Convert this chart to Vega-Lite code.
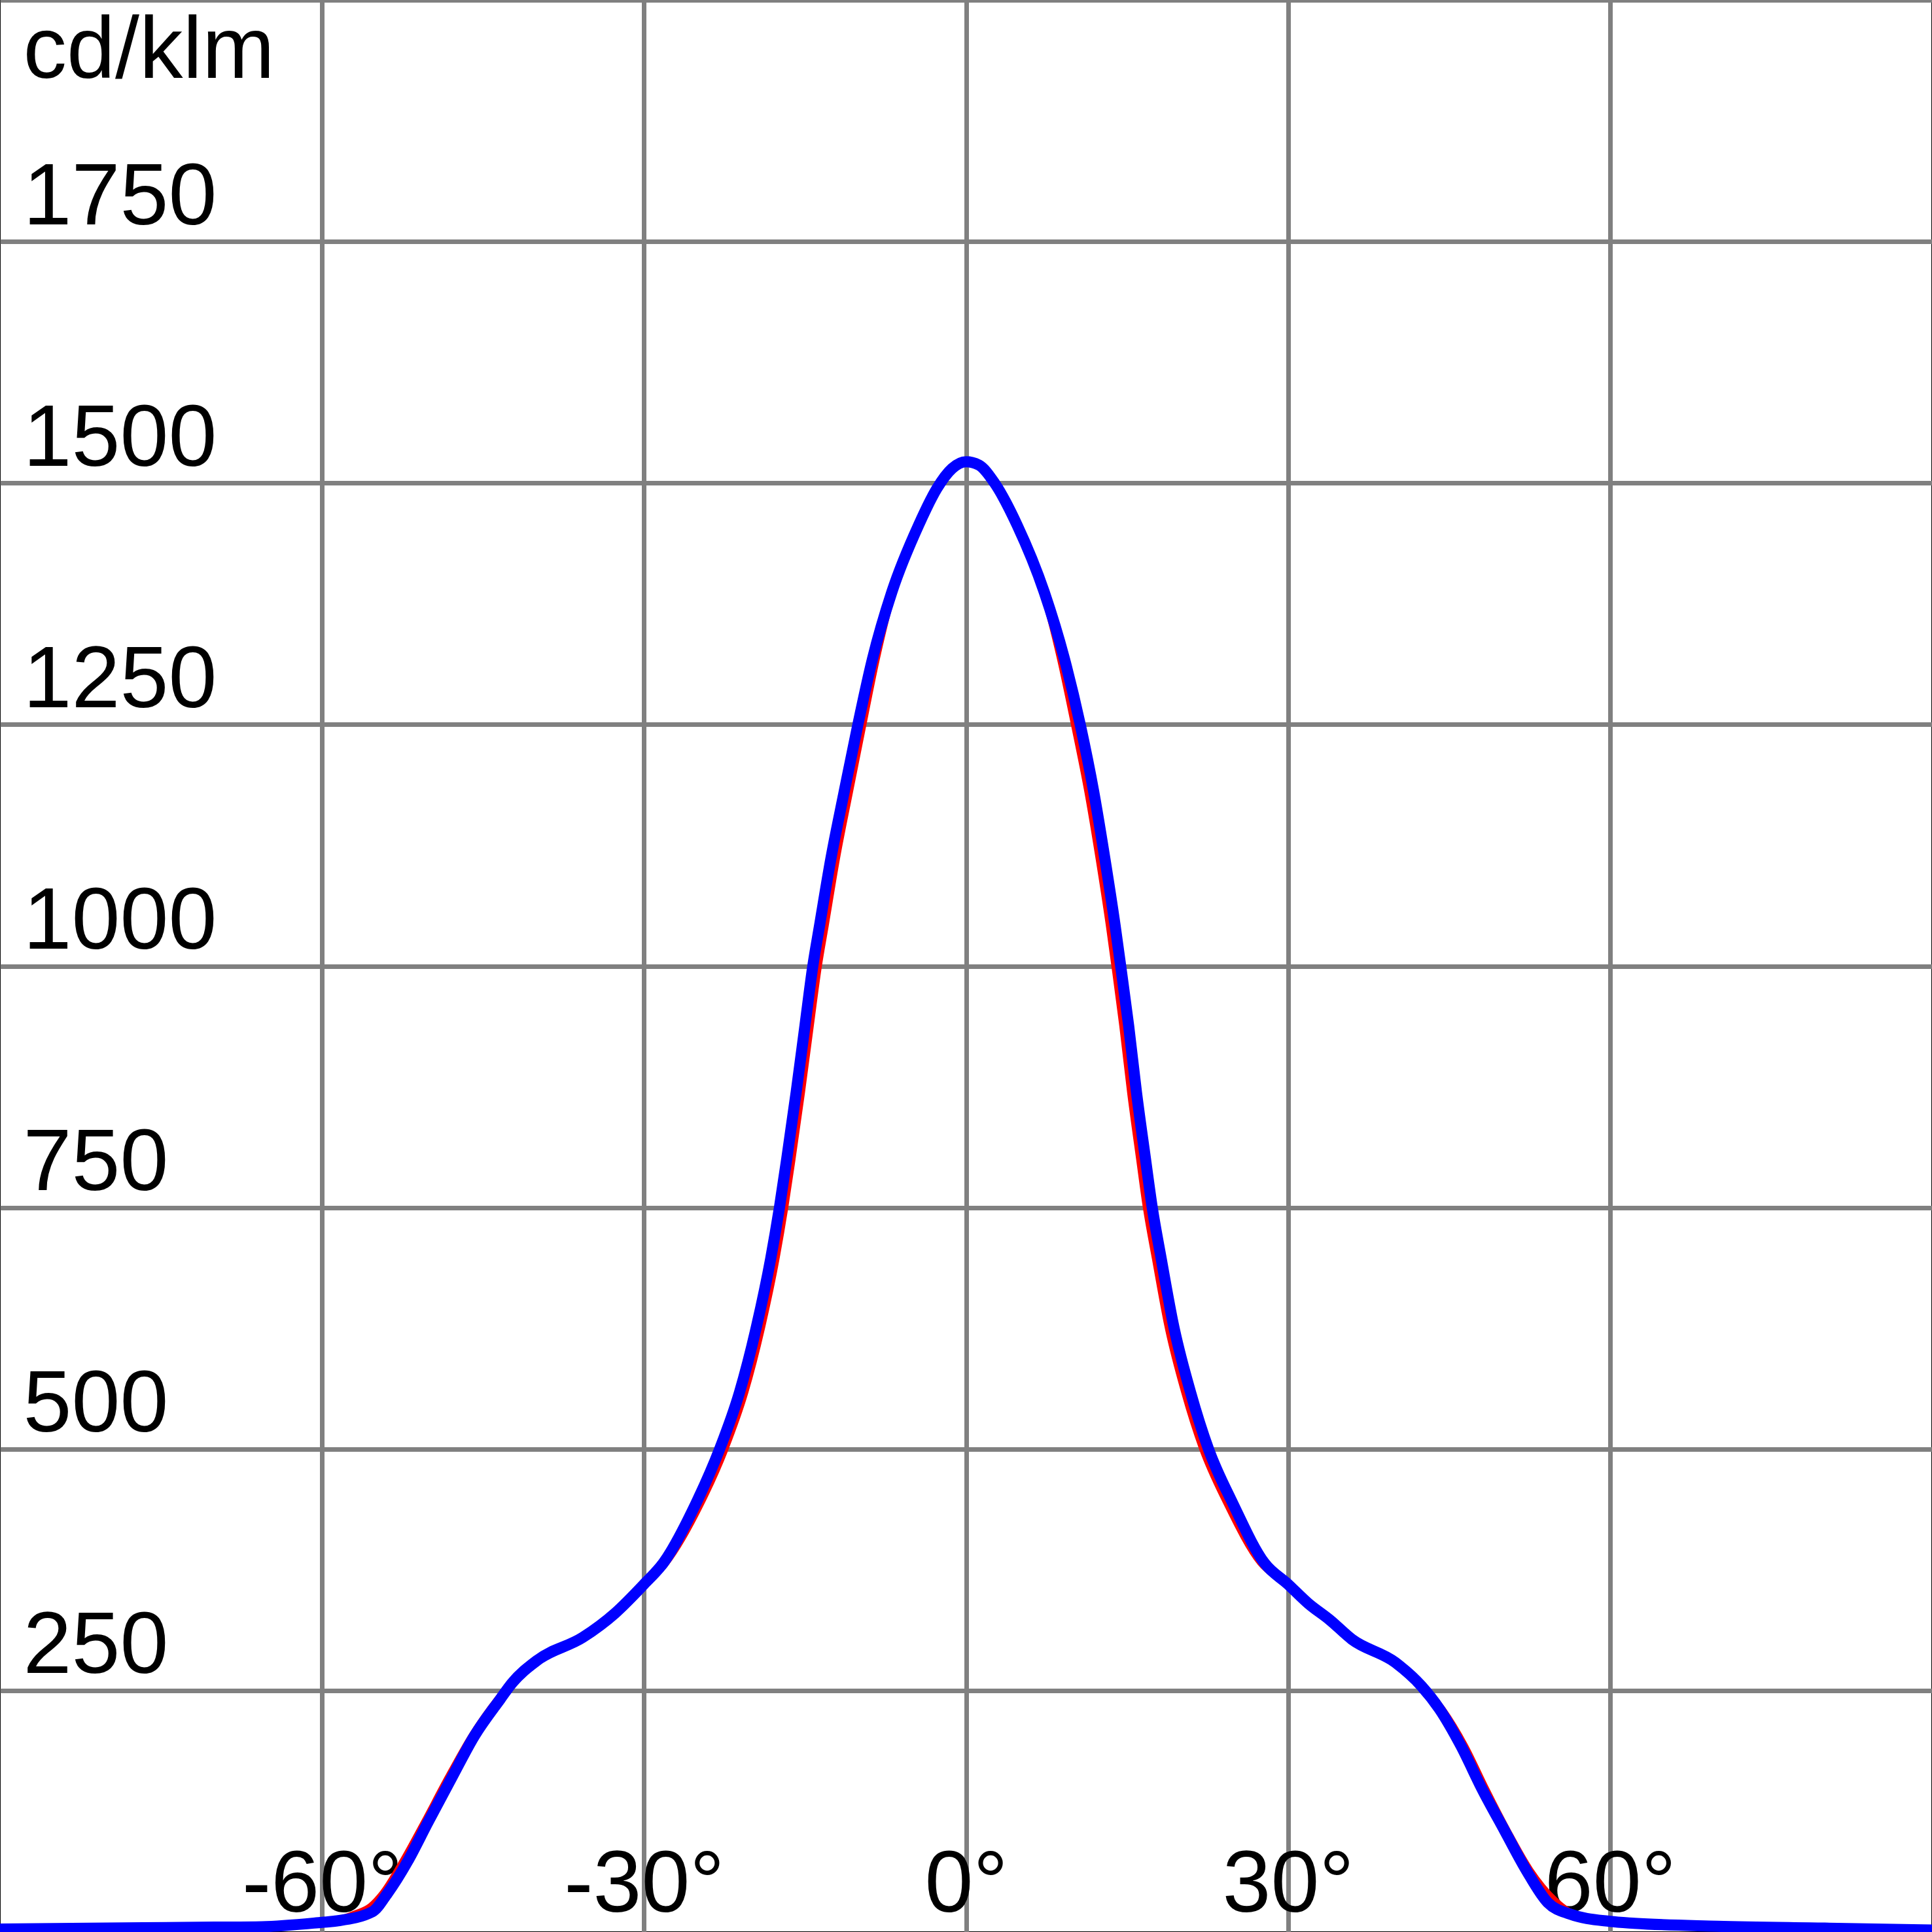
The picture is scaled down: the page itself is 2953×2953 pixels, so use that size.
{
  "$schema": "https://vega.github.io/schema/vega-lite/v6.json",
  "width": 2953,
  "height": 2953,
  "autosize": {"type": "none"},
  "padding": 0,
  "background": "#ffffff",
  "config": {
    "view": {"stroke": "#000000", "strokeWidth": 2},
    "font": "Liberation Sans"
  },
  "datasets": {
    "c0": [
      {"angle": -90, "value": 3}, {"angle": -80, "value": 4}, {"angle": -70, "value": 5}, {"angle": -65.6, "value": 6},
      {"angle": -60, "value": 11}, {"angle": -58.6, "value": 13}, {"angle": -57, "value": 19}, {"angle": -55.5, "value": 27},
      {"angle": -54.4, "value": 40}, {"angle": -52.5, "value": 73.6}, {"angle": -50.6, "value": 112}, {"angle": -48.3, "value": 160},
      {"angle": -46.1, "value": 203}, {"angle": -43.7, "value": 241}, {"angle": -42.5, "value": 257}, {"angle": -39.9, "value": 282},
      {"angle": -35.7, "value": 306}, {"angle": -32.7, "value": 331}, {"angle": -29.8, "value": 360}, {"angle": -27.9, "value": 382},
      {"angle": -24.7, "value": 442.7}, {"angle": -22.4, "value": 500}, {"angle": -20.55, "value": 558.7}, {"angle": -18.95, "value": 627.7},
      {"angle": -17.65, "value": 696.8}, {"angle": -16.83, "value": 750}, {"angle": -16.15, "value": 800.4}, {"angle": -15.27, "value": 869.5},
      {"angle": -14.45, "value": 938.5}, {"angle": -13.7, "value": 1000}, {"angle": -13.06, "value": 1042}, {"angle": -12.02, "value": 1111},
      {"angle": -10.8, "value": 1180.3}, {"angle": -9.55, "value": 1250}, {"angle": -8.3, "value": 1318}, {"angle": -6.75, "value": 1387.4},
      {"angle": -4.4, "value": 1456.5}, {"angle": -2.75, "value": 1494}, {"angle": -1.3, "value": 1515}, {"angle": 0, "value": 1522},
      {"angle": 1.2, "value": 1518.6}, {"angle": 2.66, "value": 1500}, {"angle": 4.76, "value": 1456.5}, {"angle": 7.15, "value": 1387.4},
      {"angle": 8.75, "value": 1318}, {"angle": 10.05, "value": 1250}, {"angle": 11.3, "value": 1180.3}, {"angle": 12.35, "value": 1111},
      {"angle": 13.3, "value": 1042}, {"angle": 13.82, "value": 1000}, {"angle": 14.55, "value": 938.5}, {"angle": 15.28, "value": 869.5},
      {"angle": 16.12, "value": 800.4}, {"angle": 16.75, "value": 750}, {"angle": 17.6, "value": 696.8}, {"angle": 18.75, "value": 627.7},
      {"angle": 20.32, "value": 558.7}, {"angle": 22, "value": 500}, {"angle": 24.3, "value": 442.7}, {"angle": 27.4, "value": 382},
      {"angle": 29.8, "value": 360}, {"angle": 31.8, "value": 340}, {"angle": 33.9, "value": 323}, {"angle": 36, "value": 303},
      {"angle": 40, "value": 279}, {"angle": 42.6, "value": 255}, {"angle": 44.4, "value": 231}, {"angle": 46.5, "value": 193},
      {"angle": 48.5, "value": 147.6}, {"angle": 50.5, "value": 104.6}, {"angle": 52.6, "value": 64}, {"angle": 54.9, "value": 33},
      {"angle": 56.5, "value": 20}, {"angle": 60, "value": 12}, {"angle": 62.3, "value": 9}, {"angle": 70, "value": 6},
      {"angle": 80, "value": 4}, {"angle": 90, "value": 2}
    ],
    "c90": [
      {"angle": -90, "value": 3}, {"angle": -80, "value": 4}, {"angle": -70, "value": 5}, {"angle": -65.6, "value": 5.5},
      {"angle": -60, "value": 10}, {"angle": -58.6, "value": 11.5}, {"angle": -55.3, "value": 21}, {"angle": -53.9, "value": 40},
      {"angle": -52, "value": 73.6}, {"angle": -50.2, "value": 112}, {"angle": -47.9, "value": 160}, {"angle": -45.8, "value": 203},
      {"angle": -43.4, "value": 241}, {"angle": -42.3, "value": 257.6}, {"angle": -39.9, "value": 281.6}, {"angle": -35.7, "value": 305},
      {"angle": -32.7, "value": 330}, {"angle": -30, "value": 360}, {"angle": -28.2, "value": 382}, {"angle": -25.2, "value": 442.7},
      {"angle": -22.95, "value": 500}, {"angle": -21.1, "value": 558.7}, {"angle": -19.5, "value": 627.7}, {"angle": -18.2, "value": 696.8},
      {"angle": -17.38, "value": 750}, {"angle": -16.7, "value": 800.4}, {"angle": -15.82, "value": 869.5}, {"angle": -15, "value": 938.5},
      {"angle": -14.27, "value": 1000}, {"angle": -13.64, "value": 1042}, {"angle": -12.59, "value": 1111}, {"angle": -11.35, "value": 1180.3},
      {"angle": -10.07, "value": 1250}, {"angle": -8.71, "value": 1318}, {"angle": -6.9, "value": 1387.4}, {"angle": -4.41, "value": 1456.5},
      {"angle": -2.73, "value": 1494}, {"angle": -1.3, "value": 1515}, {"angle": 0, "value": 1522},
      {"angle": 1.2, "value": 1518.6}, {"angle": 2.66, "value": 1500}, {"angle": 4.76, "value": 1456.5}, {"angle": 7.28, "value": 1387.4},
      {"angle": 9.17, "value": 1318}, {"angle": 10.64, "value": 1250}, {"angle": 11.9, "value": 1180.3}, {"angle": 12.94, "value": 1111},
      {"angle": 13.89, "value": 1042}, {"angle": 14.41, "value": 1000}, {"angle": 15.15, "value": 938.5}, {"angle": 15.88, "value": 869.5},
      {"angle": 16.72, "value": 800.4}, {"angle": 17.35, "value": 750}, {"angle": 18.19, "value": 696.8}, {"angle": 19.34, "value": 627.7},
      {"angle": 20.92, "value": 558.7}, {"angle": 22.59, "value": 500}, {"angle": 24.9, "value": 442.7}, {"angle": 27.8, "value": 382},
      {"angle": 30, "value": 360}, {"angle": 31.9, "value": 340}, {"angle": 33.9, "value": 323}, {"angle": 35.95, "value": 303},
      {"angle": 40, "value": 279}, {"angle": 42.4, "value": 255}, {"angle": 44.1, "value": 231}, {"angle": 46.1, "value": 193},
      {"angle": 48.1, "value": 147.6}, {"angle": 50.2, "value": 104.6}, {"angle": 52.2, "value": 64}, {"angle": 54.2, "value": 30.5},
      {"angle": 56.25, "value": 18.6}, {"angle": 60, "value": 11}, {"angle": 62.3, "value": 9}, {"angle": 70, "value": 6},
      {"angle": 80, "value": 4}, {"angle": 90, "value": 2}
    ]
  },
  "encoding": {
    "x": {
      "field": "angle",
      "type": "quantitative",
      "scale": {"domain": [-90, 90], "nice": false, "zero": false},
      "axis": {
        "orient": "bottom",
        "values": [-60, -30, 0, 30, 60],
        "labelExpr": "datum.value + '°'",
        "domain": false,
        "ticks": false,
        "tickSize": 0,
        "grid": true,
        "gridColor": "#808080",
        "gridWidth": 7,
        "gridOpacity": 1,
        "labelFont": "Liberation Sans",
        "labelFontSize": 133,
        "labelColor": "#000000",
        "labelAlign": "center",
        "labelBaseline": "alphabetic",
        "labelPadding": -32,
        "labelLimit": 0,
        "labelFlush": false,
        "labelOverlap": false,
        "title": null
      }
    },
    "y": {
      "field": "value",
      "type": "quantitative",
      "scale": {"domain": [0, 2000], "nice": false, "zero": true},
      "axis": {
        "orient": "left",
        "values": [250, 500, 750, 1000, 1250, 1500, 1750, 2000],
        "labelExpr": "datum.value >= 2000 ? '' : '' + datum.value",
        "domain": false,
        "ticks": false,
        "tickSize": 0,
        "grid": true,
        "gridColor": "#808080",
        "gridWidth": 7,
        "gridOpacity": 1,
        "labelFont": "Liberation Sans",
        "labelFontSize": 133,
        "labelColor": "#000000",
        "labelAlign": "left",
        "labelBaseline": "alphabetic",
        "labelPadding": -35,
        "labelOffset": -27,
        "labelLimit": 0,
        "labelFlush": false,
        "labelOverlap": false,
        "title": "cd/klm",
        "titleAngle": 0,
        "titleX": 35,
        "titleY": 118,
        "titleAlign": "left",
        "titleBaseline": "alphabetic",
        "titleFont": "Liberation Sans",
        "titleFontSize": 133,
        "titleFontWeight": "normal",
        "titleColor": "#000000",
        "titleLimit": 0
      }
    }
  },
  "layer": [
    {
      "data": {"name": "c0"},
      "mark": {"type": "line", "color": "#ff0000", "strokeWidth": 9, "interpolate": "monotone", "strokeJoin": "round", "clip": true}
    },
    {
      "data": {"name": "c90"},
      "mark": {"type": "line", "color": "#0000ff", "strokeWidth": 17, "interpolate": "monotone", "strokeJoin": "round", "clip": true}
    }
  ]
}
